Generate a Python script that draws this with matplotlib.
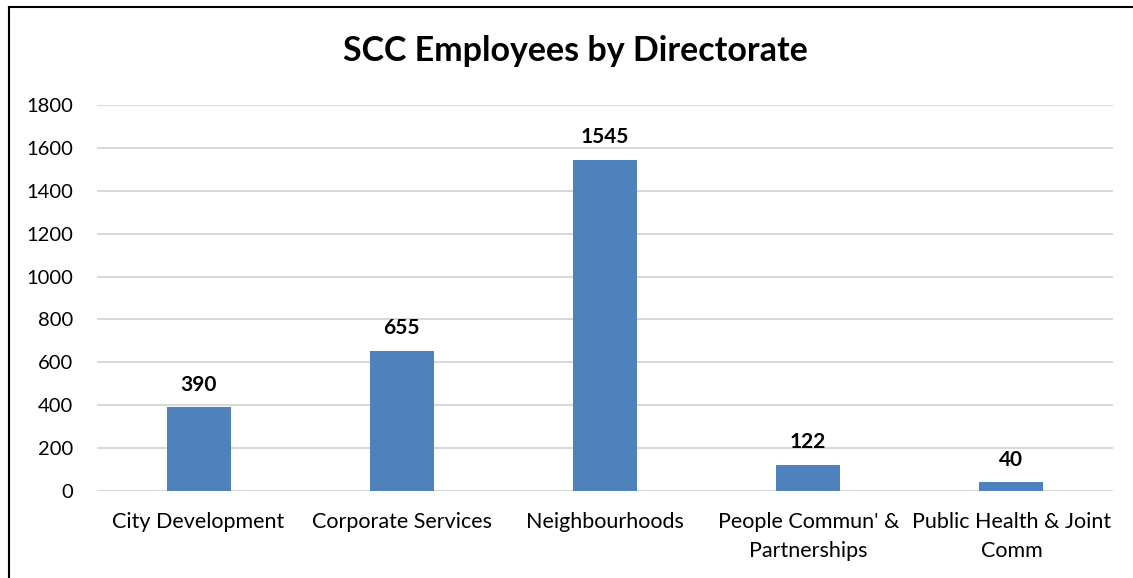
import matplotlib.pyplot as plt
import numpy as np

directorates = [
    "City Development",
    "Corporate Services",
    "Neighbourhoods",
    "People Commun' &\nPartnerships",
    "Public Health & Joint\nComm",
]
employees = [390, 655, 1545, 122, 40]
y_ticks = [0, 200, 400, 600, 800, 1000, 1200, 1400, 1600, 1800]

plt.rcParams["font.family"] = ["Lato", "DejaVu Sans"]

fig = plt.figure(figsize=(11.33, 5.78), dpi=100)
ax = fig.add_axes([97 / 1133, 1 - 491 / 578, (1113 - 97) / 1133, (491 - 105) / 578])

x = np.arange(len(directorates))
ax.bar(x, employees, width=0.315, color="#4f81bd", zorder=3)
for xi, v in zip(x, employees):
    ax.annotate(str(v), (xi, v), xytext=(0, 9), textcoords="offset points",
                ha="center", va="bottom", fontsize=15, fontweight="bold")

ax.set_xlim(-0.5, len(directorates) - 0.5)
ax.set_ylim(0, 1800)
ax.set_yticks(y_ticks)
ax.set_yticklabels([str(t) for t in y_ticks], fontsize=14.5)
ax.set_xticks(x)
ax.set_xticklabels(directorates, fontsize=15.5, linespacing=1.55)
ax.grid(axis="y", color="#d9d9d9", linewidth=1.5, zorder=0)
ax.tick_params(length=0)
ax.tick_params(axis="x", pad=15)
ax.tick_params(axis="y", pad=17)
for s in ax.spines.values():
    s.set_visible(False)

fig.text(575 / 1133, 1 - 51 / 578, "SCC Employees by Directorate",
         ha="center", va="center", fontsize=24.5, fontweight="bold")

# outer frame lines on the left and top
fig.add_artist(plt.Line2D([8.5 / 1133, 8.5 / 1133], [0, 1 - 7 / 578], color="black", lw=1.5))
fig.add_artist(plt.Line2D([8.5 / 1133, 1], [1 - 7 / 578, 1 - 7 / 578], color="black", lw=1.5))

fig.savefig("out.png", dpi=100)
